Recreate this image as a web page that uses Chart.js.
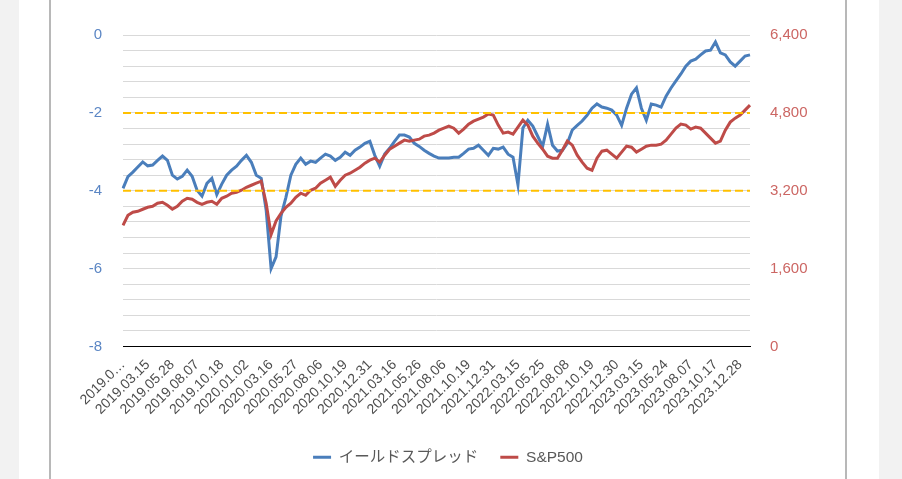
<!doctype html>
<html lang="ja">
  <head>
    <meta charset="utf-8">
    <title>イールドスプレッドとS&amp;P500</title>
    <style>
      * {
        margin: 0;
        padding: 0;
      }
      body {
        background: #f2f2f2;
        width: 902px;
        height: 479px;
        overflow: hidden;
        font-family: "Liberation Sans", "Noto Sans CJK JP", sans-serif;
      }
      .page {
        position: absolute;
        left: 19px;
        top: 0;
        width: 860px;
        height: 479px;
        background: #fff;
      }
      .chartBox {
        position: absolute;
        left: 30px;
        top: 0;
        width: 794px;
        height: 479px;
        border-left: 2px solid #b8b8b8;
        border-right: 2px solid #b8b8b8;
      }
    </style>
  </head>
  <body>
    <div class="page">
      <div class="chartBox">
        <canvas id="spreadChart"></canvas>
      </div>
    </div>

    <script src="https://cdn.jsdelivr.net/npm/chart.js"></script>
    <script>
    // tick dates shown on the x axis (one every 5 points)
    const tickDates = ['2019.0…', '2019.03.15', '2019.05.28', '2019.08.07', '2019.10.18',
      '2020.01.02', '2020.03.16', '2020.05.27', '2020.08.06', '2020.10.19', '2020.12.31',
      '2021.03.16', '2021.05.26', '2021.08.06', '2021.10.19', '2021.12.31',
      '2022.03.15', '2022.05.25', '2022.08.08', '2022.10.19', '2022.12.30',
      '2023.03.15', '2023.05.24', '2023.08.07', '2023.10.17', '2023.12.28'];

    // イールドスプレッド (left axis)
    const spread = [
      -3.94, -3.64, -3.52, -3.39, -3.26, -3.36, -3.34, -3.22, -3.11, -3.22,
      -3.60, -3.70, -3.63, -3.47, -3.63, -3.99, -4.14, -3.81, -3.68, -4.10,
      -3.83, -3.60, -3.47, -3.37, -3.22, -3.09, -3.27, -3.60, -3.68, -4.50,
      -6.00, -5.70, -4.65, -4.17, -3.60, -3.32, -3.16, -3.32, -3.24, -3.27,
      -3.16, -3.06, -3.11, -3.22, -3.14, -3.01, -3.09, -2.96, -2.88, -2.78,
      -2.73, -3.09, -3.37, -3.06, -2.91, -2.73, -2.57, -2.57, -2.62, -2.78,
      -2.86, -2.96, -3.04, -3.11, -3.16, -3.16, -3.16, -3.14, -3.14, -3.04,
      -2.93, -2.91, -2.83, -2.96, -3.09, -2.91, -2.93, -2.88, -3.06, -3.14,
      -3.85, -2.39, -2.19, -2.34, -2.60, -2.86, -2.29, -2.83, -2.98, -2.96,
      -2.78, -2.44, -2.32, -2.21, -2.06, -1.88, -1.77, -1.85, -1.88, -1.93,
      -2.06, -2.32, -1.88, -1.52, -1.36, -1.88, -2.19, -1.77, -1.80, -1.85,
      -1.57, -1.36, -1.18, -1.00, -0.80, -0.67, -0.62, -0.51, -0.41, -0.39,
      -0.18, -0.46, -0.51, -0.69, -0.80, -0.67, -0.54, -0.51];

    // S&P500 (right axis)
    const sp500 = [
      2490, 2696, 2758, 2778, 2820, 2861, 2880, 2943, 2963, 2902,
      2820, 2880, 2984, 3046, 3025, 2963, 2922, 2963, 2984, 2922,
      3046, 3087, 3149, 3169, 3210, 3272, 3313, 3355, 3396, 2943,
      2300, 2580, 2737, 2861, 2943, 3066, 3149, 3107, 3210, 3252,
      3355, 3416, 3478, 3293, 3416, 3519, 3560, 3622, 3684, 3766,
      3828, 3869, 3787, 3931, 4054, 4116, 4178, 4240, 4219, 4240,
      4260, 4322, 4342, 4384, 4445, 4486, 4528, 4486, 4384, 4466,
      4569, 4631, 4672, 4713, 4775, 4754, 4548, 4384, 4405, 4363,
      4507, 4651, 4548, 4322, 4178, 4054, 3910, 3869, 3869, 4034,
      4219, 4137, 3931, 3787, 3663, 3622, 3869, 4013, 4034, 3951,
      3869, 3993, 4116, 4095, 3993, 4054, 4116, 4137, 4137, 4157,
      4240, 4363, 4486, 4569, 4548, 4466, 4507, 4486, 4384, 4281,
      4178, 4219, 4445, 4610, 4692, 4754, 4857, 4960];

    // dashed reference levels on the left axis
    const bandLevels = [-2, -4];

    const labels = spread.map((v, i) => (i % 5 === 0 ? tickDates[i / 5] : ''));

    const bandSets = bandLevels.map(level => ({
      label: 'band' + level,
      data: spread.map(() => level),
      yAxisID: 'y',
      borderColor: '#ffc000',
      borderWidth: 2,
      borderDash: [8, 4],
      pointRadius: 0,
      order: 0
    }));

    const data = {
      labels: labels,
      datasets: [{
        label: 'イールドスプレッド',
        data: spread,
        yAxisID: 'y',
        borderColor: '#4a7ebb',
        backgroundColor: '#4a7ebb',
        borderWidth: 3,
        pointRadius: 0,
        order: 2
      }, {
        label: 'S&P500',
        data: sp500,
        yAxisID: 'y1',
        borderColor: '#be4b48',
        backgroundColor: '#be4b48',
        borderWidth: 3,
        pointRadius: 0,
        order: 1
      }].concat(bandSets)
    };

    const config = {
      type: 'line',
      data,
      options: {
        responsive: false,
        animation: false,
        layout: {
          padding: { top: 35, bottom: 4 }
        },
        plugins: {
          tooltip: { enabled: false },
          legend: {
            position: 'bottom',
            labels: {
              usePointStyle: true,
              pointStyleWidth: 18,
              pointStyle: 'line',
              padding: 22,
              color: '#595959',
              font: { size: 15.5, family: '"Liberation Sans", "Noto Sans CJK JP", sans-serif' },
              filter: item => item.datasetIndex < 2,
              sort: (a, b) => a.datasetIndex - b.datasetIndex
            }
          }
        },
        scales: {
          x: {
            grid: { display: false },
            border: { color: '#000', width: 1 },
            afterFit: scale => { scale.height = 81; },
            ticks: {
              autoSkip: false,
              maxRotation: 45,
              minRotation: 45,
              padding: 2,
              color: '#4d4d4d',
              font: { size: 14, family: '"Liberation Sans", sans-serif' }
            }
          },
          y: {
            position: 'left',
            min: -8,
            max: 0,
            afterFit: scale => { scale.width = 72; },
            grid: {
              drawTicks: false,
              color: ctx => (ctx.tick && ctx.tick.value === -8 ? '#000' : '#d9d9d9')
            },
            border: { display: false },
            ticks: {
              stepSize: 0.4,
              autoSkip: false,
              padding: 21,
              color: '#5b86c4',
              font: { size: 15, family: '"Liberation Sans", sans-serif' },
              callback: v => (Math.round(v * 10) % 20 === 0 ? String(Math.round(v)) : '')
            }
          },
          y1: {
            position: 'right',
            min: 0,
            max: 6400,
            afterFit: scale => { scale.width = 95; },
            grid: { drawOnChartArea: false, drawTicks: false },
            border: { display: false },
            ticks: {
              stepSize: 320,
              autoSkip: false,
              padding: 20,
              color: '#cc6663',
              font: { size: 15, family: '"Liberation Sans", sans-serif' },
              callback: v => (Math.round(v) % 1600 === 0 ? Math.round(v).toLocaleString('en-US') : '')
            }
          }
        }
      }
    };

    const canvas = document.getElementById('spreadChart');
    canvas.width = 794;
    canvas.height = 479;
    const spreadChart = new Chart(canvas, config);
    </script>
  </body>
</html>
